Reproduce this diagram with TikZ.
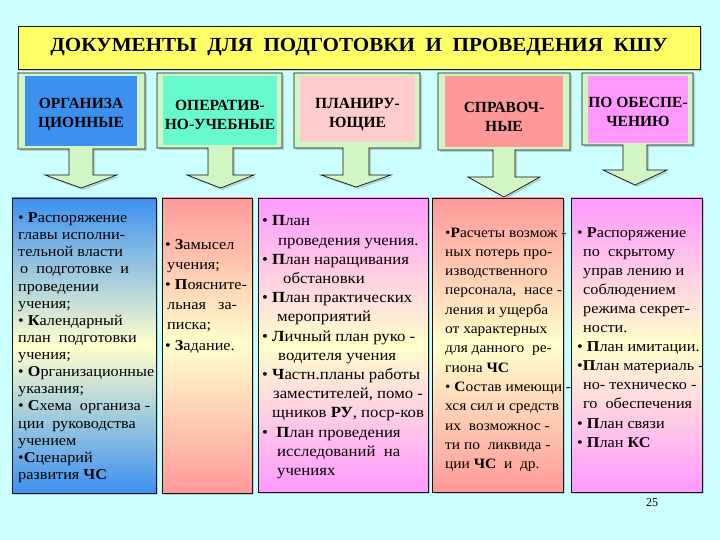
\documentclass[tikz,border=0pt]{standalone}
\usepackage{fontspec}
\setmainfont{Liberation Serif}
\newfontfamily\bodyfont[FakeStretch=1.08]{Liberation Serif}
\usetikzlibrary{shadows}
\definecolor{bgc}{RGB}{204,255,255}
\definecolor{titley}{RGB}{255,255,102}
\definecolor{paleg}{RGB}{210,245,196}
\definecolor{cblue}{RGB}{60,145,240}
\definecolor{caqua}{RGB}{102,250,204}
\definecolor{cpink}{RGB}{255,204,204}
\definecolor{csalmon}{RGB}{255,153,153}
\definecolor{cviolet}{RGB}{255,153,255}
\definecolor{paley}{RGB}{255,255,204}
\definecolor{edge}{RGB}{20,20,20}
\newcommand\B[1]{\textbf{#1}}
\tikzset{
  shad/.style={drop shadow={shadow xshift=2pt,shadow yshift=-2pt,fill=gray,opacity=.35}},
  titlebox/.style={draw=edge,line width=0.8pt,fill=titley,shad,inner sep=0pt},
  callout/.style={draw=edge,line width=0.7pt,fill=paleg,line join=miter,shad},
  inner/.style={inner sep=0pt},
  label/.style={inner sep=0pt,align=center,font=\fontsize{15.5}{19}\selectfont\bfseries},
  lowbox/.style={draw=edge,line width=0.8pt,inner sep=0pt,shad},
  bodytext/.style={inner sep=0pt,anchor=north west,align=left},
}
\begin{document}
\begin{tikzpicture}[x=1pt,y=-1pt]
\useasboundingbox (0,0) rectangle (720,540);
\fill[bgc] (0,0) rectangle (720,540);

% title
\node[titlebox,minimum width=682pt,minimum height=43pt] (title) at (359,47.5)
  {\raisebox{-3pt}{\scalebox{1.055}[1]{\fontsize{20}{24}\selectfont\bfseries ДОКУМЕНТЫ\ \ ДЛЯ\ \ ПОДГОТОВКИ\ \ И\ \ ПРОВЕДЕНИЯ\ \ КШУ}}};

% callouts
\draw[callout] (18,73) -- (145,73) -- (145,149) -- (93,149) -- (93,175) -- (117,175)
  -- (81,188) coordinate (p1) -- (45,175) -- (69,175) -- (69,149) -- (18,149) -- cycle;
\node[inner,fill=cblue,minimum width=112pt,minimum height=70pt] (c1) at (81,111) {};
\node[label] (l1) at (81,114.5) {ОРГАНИЗА\\ЦИОННЫЕ};

\draw[callout] (157,73) -- (282,73) -- (282,148) -- (233,148) -- (233,175) -- (254,175)
  -- (220.5,188) coordinate (p2) -- (187,175) -- (208,175) -- (208,148) -- (157,148) -- cycle;
\node[inner,fill=caqua,minimum width=114pt,minimum height=69pt] (c2) at (220,110.5) {};
\node[label] (l2) at (220,114.5) {ОПЕРАТИВ-\\НО-УЧЕБНЫЕ};

\draw[callout] (294,73) -- (420,73) -- (420,148) -- (369,148) -- (369,175) -- (391,175)
  -- (356,187) coordinate (p3) -- (321,175) -- (343,175) -- (343,148) -- (294,148) -- cycle;
\node[inner,fill=cpink,minimum width=115pt,minimum height=66pt] (c3) at (357.5,109) {};
\node[label] (l3) at (357.5,114.5) {ПЛАНИРУ-\\ЮЩИЕ};

\draw[callout] (438,73) -- (570,73) -- (570,150) -- (515,150) -- (515,177) -- (540,177)
  -- (504,197) coordinate (p4) -- (468,177) -- (493,177) -- (493,150) -- (438,150) -- cycle;
\node[inner,fill=csalmon,minimum width=118pt,minimum height=71pt] (c4) at (504,111.5) {};
\node[label] (l4) at (504,116.5) {СПРАВОЧ-\\НЫЕ};

\draw[callout] (582,73) -- (693,73) -- (693,145) -- (647,145) -- (647,170) -- (667,170)
  -- (635,185) coordinate (p5) -- (603,170) -- (623,170) -- (623,145) -- (582,145) -- cycle;
\node[inner,fill=cviolet,minimum width=100pt,minimum height=67pt] (c5) at (638,109.5) {};
\node[label] (l5) at (638,111.5) {ПО ОБЕСПЕ-\\ЧЕНИЮ};

% lower boxes
\node[lowbox,top color=cblue,bottom color=cblue,middle color=paley,minimum width=144pt,minimum height=295pt] (b1) at (84,345.5) {};
\node[lowbox,top color=csalmon,bottom color=csalmon,middle color=paley,minimum width=90pt,minimum height=295pt] (b2) at (207,345.5) {};
\node[lowbox,top color=cviolet,bottom color=cviolet,middle color=paley,minimum width=170pt,minimum height=294pt] (b3) at (343,345) {};
\node[lowbox,top color=csalmon,bottom color=csalmon,middle color=paley,minimum width=131pt,minimum height=294pt] (b4) at (497.5,345) {};
\node[lowbox,top color=cviolet,bottom color=cviolet,middle color=paley,minimum width=131pt,minimum height=294pt] (b5) at (636.5,345) {};

% texts
\node[bodytext,font=\bodyfont\fontsize{15}{17.13}\selectfont] (t1) at (18,212.5) {%
• \B{Р}аспоряжение\\
главы исполни-\\
тельной власти\\
\hspace*{2pt}о\ \ подготовке\ \ и\\
проведении\\
учения;\\
• \B{К}алендарный\\
план\ \ подготовки\\
учения;\\
• \B{О}рганизационные\\
указания;\\
• \B{С}хема\ \ организа -\\
ции\ \ руководства\\
учением\\
•\B{С}ценарий\\
развития \B{ЧС}};

\node[bodytext,font=\bodyfont\fontsize{15}{20.2}\selectfont] (t2) at (165,239) {%
• \B{З}амысел\\
\hspace*{2pt}учения;\\
• \B{П}оясните-\\
\hspace*{2pt}льная\ \ \ за-\\
\hspace*{2pt}писка;\\
• \B{З}адание.};

\node[bodytext,font=\bodyfont\fontsize{15.5}{19.2}\selectfont] (t3) at (262,215.5) {%
• \B{П}лан\\
\hspace*{16pt}проведения учения.\\
• \B{П}лан наращивания\\
\hspace*{21pt}обстановки\\
• \B{П}лан практических\\
\hspace*{15pt}мероприятий\\
• \B{Л}ичный план руко -\\
\hspace*{16pt}водителя учения\\
• \B{Ч}астн.планы работы\\
\hspace*{11pt}заместителей, помо -\\
\hspace*{10pt}щников \B{РУ}, поср-ков\\
•\ \ \B{П}лан проведения\\
\hspace*{15pt}исследований\ \ на\\
\hspace*{15pt}учениях};

\node[bodytext,font=\bodyfont\fontsize{14.3}{19.3}\selectfont] (t4) at (445,227.5) {%
•\B{Р}асчеты возмож -\\
ных потерь про-\\
изводственного\\
персонала,\ \ насе -\\
ления и ущерба\\
от характерных\\
для данного\ \ ре-\\
гиона \B{ЧС}\\
• \B{С}остав имеющи -\\
хся сил и средств\\
их\ \ возможнос -\\
ти по\ \ ликвида -\\
ции \B{ЧС}\ \ и\ \ др.};

\node[bodytext,font=\bodyfont\fontsize{15}{19.1}\selectfont] (t5) at (577,227) {%
• \B{Р}аспоряжение\\
\hspace*{6pt}по\ \ скрытому\\
\hspace*{6pt}управ лению и\\
\hspace*{6pt}соблюдением\\
\hspace*{6pt}режима секрет-\\
\hspace*{6pt}ности.\\
• \B{П}лан имитации.\\
•\B{П}лан материаль -\\
\hspace*{6pt}но- техническо -\\
\hspace*{6pt}го\ \ обеспечения\\
• \B{П}лан связи\\
• \B{П}лан \B{КС}};

\node[font=\fontsize{12}{14}\selectfont] (pg) at (652,503) {25};
\end{tikzpicture}
\end{document}
